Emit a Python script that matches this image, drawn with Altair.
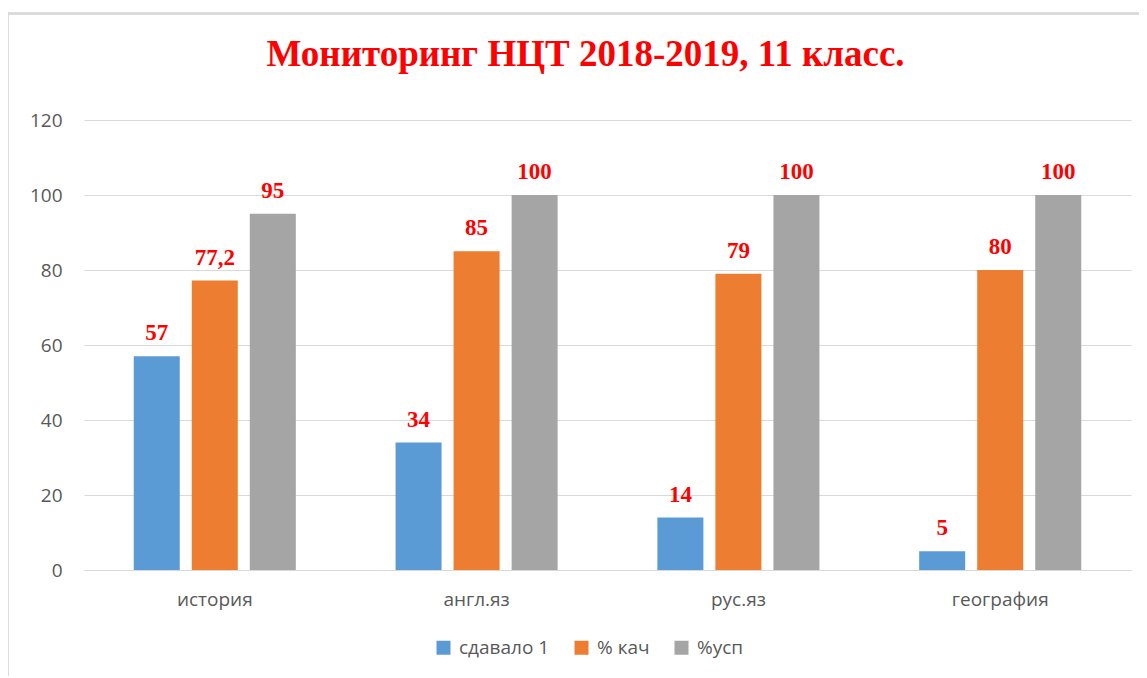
import altair as alt
import pandas as pd

categories = ["история", "англ.яз", "рус.яз", "география"]
series = ["сдавало 1", "% кач", "%усп"]
sdavalo = [57, 34, 14, 5]
kach = [77.2, 85, 79, 80]
usp = [95, 100, 100, 100]
colors = ["#5B9BD5", "#ED7D31", "#A5A5A5"]

rows = []
for i, c in enumerate(categories):
    for s, vals in zip(series, [sdavalo, kach, usp]):
        v = vals[i]
        lab = (f"{v:g}").replace(".", ",")
        rows.append({"cat": c, "series": s, "value": v, "label": lab})
df = pd.DataFrame(rows)

x_enc = alt.X("cat:N", sort=categories,
              scale=alt.Scale(paddingInner=0.381, paddingOuter=0.19),
              axis=alt.Axis(title=None, labelAngle=0, labelFont="Open Sans",
                            labelFontSize=19, labelColor="#595959", labelPadding=20,
                            ticks=False, domainColor="#D9D9D9", domainWidth=1.2))
xoff = alt.XOffset("series:N", sort=series, scale=alt.Scale(paddingInner=0.207, paddingOuter=0))
y_enc = alt.Y("value:Q", scale=alt.Scale(domain=[0, 120], nice=False),
              axis=alt.Axis(title=None, values=[0, 20, 40, 60, 80, 100, 120],
                            labelFont="Open Sans", labelFontSize=19, labelColor="#595959",
                            labelPadding=22, ticks=False, domain=False,
                            gridColor="#D9D9D9", gridWidth=1.2))

bars = alt.Chart(df).mark_bar().encode(
    x=x_enc,
    xOffset=xoff,
    y=y_enc,
    color=alt.Color("series:N", sort=series,
                    scale=alt.Scale(domain=series, range=colors),
                    legend=alt.Legend(title=None, orient="none", direction="horizontal",
                                      legendX=350, legendY=518, padding=0,
                                      symbolType="square", symbolSize=196,
                                      symbolStrokeWidth=0, labelFont="Open Sans",
                                      labelFontSize=19, labelColor="#595959",
                                      labelOffset=6, columnPadding=22)),
)

labels = alt.Chart(df).mark_text(
    font="Liberation Serif", fontWeight="bold", fontSize=23, color="#FF0000",
    dy=-16, baseline="alphabetic", align="center"
).encode(
    x=alt.X("cat:N", sort=categories),
    xOffset=alt.XOffset("series:N", sort=series),
    y="value:Q",
    text="label:N",
)

border_left = alt.Chart(df).mark_rule(color="#D9D9D9", strokeWidth=1.5).encode(
    x=alt.value(-76.5), y=alt.value(-106.5), y2=alt.value(620))
border_top = alt.Chart(df).mark_rule(color="#D9D9D9", strokeWidth=1.5).encode(
    x=alt.value(-76.5), x2=alt.value(1100), y=alt.value(-106.5))

chart = alt.layer(border_left, border_top, bars, labels).properties(
    width=1047, height=450,
    padding={"left": 76, "top": 112, "right": 8, "bottom": 106},
    autosize=alt.AutoSizeParams(type="none"),
    title=alt.TitleParams("Мониторинг НЦТ 2018-2019, 11 класс.", font="Liberation Serif",
                          fontSize=37, fontWeight="bold", color="#FF0000",
                          anchor="middle", dx=-22, offset=-90, baseline="alphabetic"),
).configure(background="white").configure_view(stroke="transparent", strokeWidth=0)

chart.save("out.html", embed_options={"renderer": "svg", "actions": False})
